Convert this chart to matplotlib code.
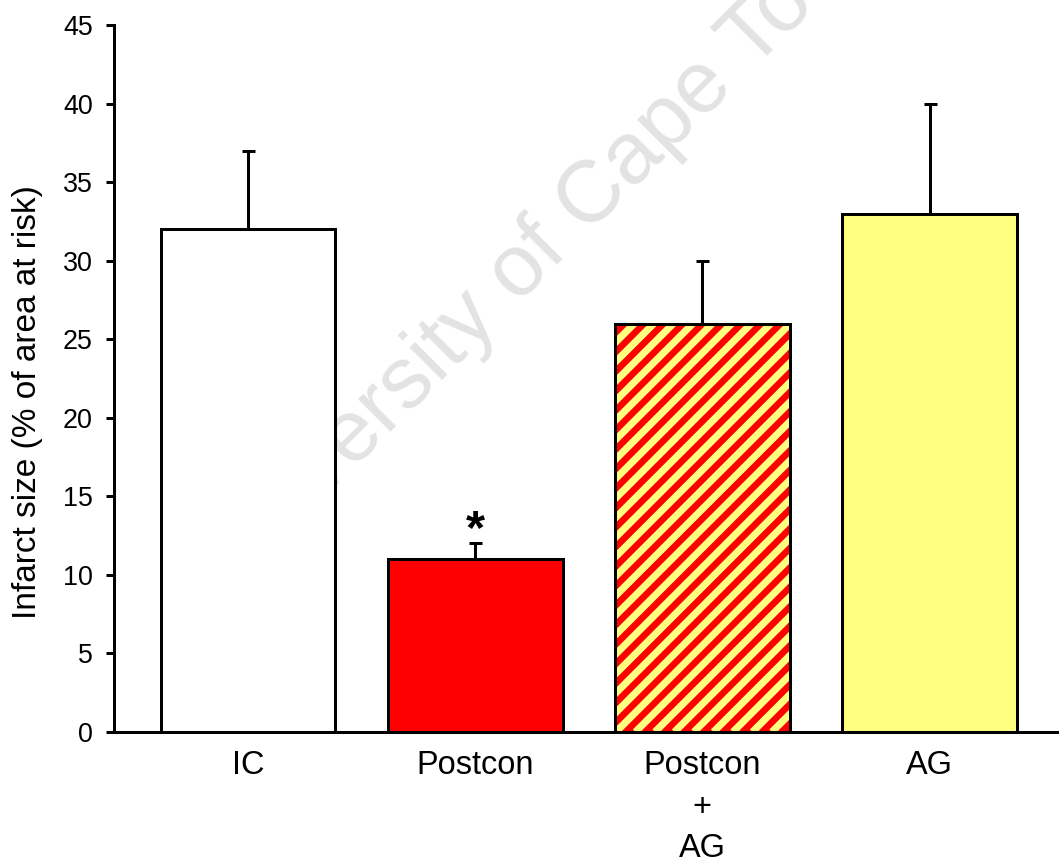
import numpy as np
import matplotlib
matplotlib.use("Agg")
from matplotlib import pyplot as plt
from matplotlib.lines import Line2D
from matplotlib.transforms import IdentityTransform

plt.rcParams['font.family'] = ['Liberation Sans', 'DejaVu Sans']

# infarct size per group, mean and upper error
groups = ["IC", "Postcon", "Postcon\n+\nAG", "AG"]
means = [32, 11, 26, 33]
errors = [5, 1, 4, 7]
face_colors = ["white", "#ff0000", "#ff0000", "#ffff80"]
stripe_colors = [None, None, "#ffff80", None]
y_ticks = [0, 5, 10, 15, 20, 25, 30, 35, 40, 45]

DPI = 117
STRIPE_PERIOD = 19.5  # px, measured along x
fig = plt.figure(figsize=(1059 / DPI, 857 / DPI), dpi=DPI)
ax = fig.add_axes([0.1076, 0.1459, 0.8924, 0.8249])
ax.set_xlim(-0.59, 3.57)
ax.set_ylim(0, 45)

x = np.arange(len(groups))
width = 0.77

# faint watermark behind the bars
ax.text(546 / 1059, 1 - 244 / 857, "University of Cape Town", transform=fig.transFigure,
        fontsize=54, color="#e3e3e3", rotation=45, rotation_mode="anchor",
        ha="center", va="center", zorder=0.5)


def add_stripes(bar, color):
    # 45 degree stripes in pixel space, clipped to the bar
    (x0, y0), (x1, y1) = ax.transData.transform(
        [(bar.get_x(), bar.get_y()), (bar.get_x() + bar.get_width(), bar.get_y() + bar.get_height())])
    h = y1 - y0
    for c in np.arange(x0 - h, x1 + STRIPE_PERIOD, STRIPE_PERIOD):
        ln = Line2D([c, c + h], [y0, y1], transform=IdentityTransform(), color=color,
                    linewidth=4.4, solid_capstyle="butt", zorder=1.2)
        ax.add_artist(ln)
        ln.set_clip_path(bar)


for xi, m, fc, sc in zip(x, means, face_colors, stripe_colors):
    if sc is not None:
        bar = ax.bar(xi, m, width, color=fc, linewidth=0, zorder=1)[0]
        add_stripes(bar, sc)
        ax.bar(xi, m, width, fill=False, edgecolor="black", linewidth=1.85, zorder=2)
    else:
        ax.bar(xi, m, width, color=fc, edgecolor="black", linewidth=1.85, zorder=2)

ax.errorbar(x, means, yerr=[np.zeros(len(errors)), errors], fmt="none",
            ecolor="black", elinewidth=1.85, capsize=4, capthick=1.85, zorder=1.5)

# significance marker above Postcon
ax.text(x[1], means[1] + errors[1], "*", ha="center", va="baseline",
        fontsize=30, fontweight="bold")

ax.set_xlim(-0.59, 3.57)
ax.set_ylim(0, 45)
ax.set_yticks(y_ticks)
ax.set_xticks(x)
ax.set_xticklabels(groups, fontsize=20, linespacing=1.45)
ax.tick_params(axis="x", length=0, pad=11)
ax.tick_params(axis="y", direction="out", length=5, width=1.85, labelsize=16.5, pad=8)
ax.set_ylabel("Infarct size (% of area at risk)", fontsize=20.5)
ax.yaxis.set_label_coords(-0.075, 0.467)

ax.spines["top"].set_visible(False)
ax.spines["right"].set_visible(False)
ax.spines["left"].set_linewidth(1.85)
ax.spines["bottom"].set_linewidth(1.85)
ax.patch.set_visible(False)

fig.savefig("out.png", dpi=DPI)
